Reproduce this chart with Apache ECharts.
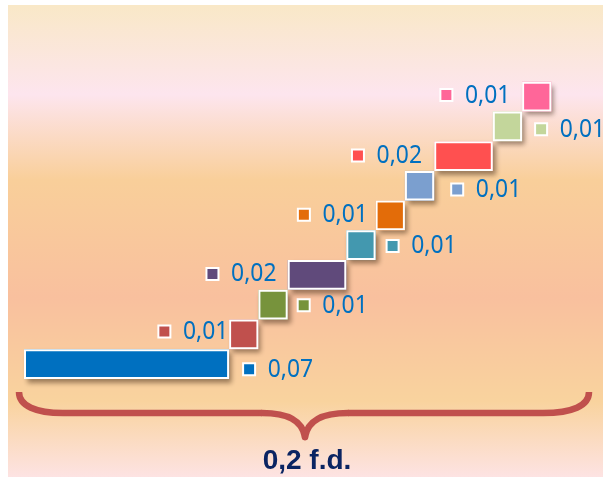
<!DOCTYPE html>
<html>
<head>
<meta charset="utf-8">
<script src="https://cdn.jsdelivr.net/npm/echarts@6/dist/echarts.min.js"></script>
<style>
html,body{margin:0;padding:0;background:#fff;}
#chart{width:603px;height:477px;}
</style>
</head>
<body>
<div id="chart"></div>
<script>
// ---- data ----
var categories = ['1', '2', '3', '4', '5', '6', '7', '8', '9', '10'];
var values = [0.07, 0.01, 0.01, 0.02, 0.01, 0.01, 0.01, 0.02, 0.01, 0.01];
var valueLabels = ['0,07', '0,01', '0,01', '0,02', '0,01', '0,01', '0,01', '0,02', '0,01', '0,01'];
var colors = ['#0070C0', '#C0504D', '#77933C', '#604A7B', '#4398AF', '#E36C09', '#7B9FCF', '#FF5050', '#C3D69B', '#FF6699'];
var labelSides = ['right', 'left', 'right', 'left', 'right', 'left', 'right', 'left', 'right', 'left'];
var totalLabel = '0,2 f.d.';

// ---- label placement styling (px nudges, separate from data) ----
var labelGap = [13, 5, 9, 12, 10, 12, 16, 13, 12, 16];
var labelDy = [5, -3, 0.5, -1, 0.7, -0.7, 3.7, -0.5, 3, -1.5];
var LABEL_FONT = '26px "Noto Sans", "Open Sans", sans-serif';
var LABEL_SCALE = 0.88;
var MARK = 14;      // outer marker size incl. white border
var MARK_GAP = 12.5;

// ---- build ----
var bases = [];
var acc = 0;
for (var i = 0; i < values.length; i++) { bases.push(acc); acc += values[i]; }

var mctx = document.createElement('canvas').getContext('2d');
function measure(txt) {
  mctx.font = LABEL_FONT;
  mctx.textBaseline = 'middle';
  mctx.textAlign = 'left';
  return mctx.measureText(txt);
}

var labelData = values.map(function (v, i) {
  var edge = labelSides[i] === 'right' ? bases[i] + v : bases[i];
  return [edge, i, i];
});

function renderLabel(params, api) {
  var idx = api.value(2);
  var p = api.coord([api.value(0), api.value(1)]);
  var txt = valueLabels[idx];
  var m = measure(txt);
  var s = LABEL_SCALE;
  var bbL = m.actualBoundingBoxLeft, bbR = m.actualBoundingBoxRight;
  var vOff = (m.actualBoundingBoxDescent - m.actualBoundingBoxAscent) / 2;
  var cy = p[1] + labelDy[idx];
  var markLeft, tx;
  if (labelSides[idx] === 'right') {
    markLeft = p[0] + labelGap[idx];
    var glyphLeft = markLeft + MARK + MARK_GAP;
    tx = glyphLeft + bbL * s;
  } else {
    var glyphRight = p[0] - labelGap[idx];
    tx = glyphRight - bbR * s;
    var gl = tx - bbL * s;
    markLeft = gl - MARK_GAP - MARK;
  }
  return {
    type: 'group',
    children: [
      {
        type: 'rect',
        shape: { x: markLeft + 1, y: cy - MARK / 2 + 1, width: MARK - 2, height: MARK - 2 },
        style: { fill: colors[idx], stroke: '#ffffff', lineWidth: 2 }
      },
      {
        type: 'text',
        x: tx, y: cy - vOff, scaleX: s, scaleY: 1,
        style: { text: txt, font: LABEL_FONT, fill: '#0070C0', align: 'left', verticalAlign: 'middle' }
      }
    ]
  };
}

var braceColor = '#C0504D';
var braceStyle = { stroke: braceColor, lineWidth: 6.5, fill: null, lineCap: 'butt' };
var braceTip = { stroke: braceColor, lineWidth: 6.5, fill: null, lineCap: 'round' };

var stepItems = values.map(function (v, i) { return { value: v, itemStyle: { color: colors[i] } }; });

var chart = echarts.init(document.getElementById('chart'), null, { renderer: 'canvas' });
chart.setOption({
  backgroundColor: '#ffffff',
  animation: false,
  grid: { left: 24, right: 51.6, top: 81.7, bottom: 98, containLabel: false },
  xAxis: { type: 'value', min: 0, max: 0.18, show: false },
  yAxis: { type: 'category', data: categories, show: false },
  graphic: [
    {
      type: 'rect', z: -10, silent: true,
      shape: { x: 8, y: 5, width: 595, height: 472 },
      style: {
        fill: new echarts.graphic.LinearGradient(0, 0, 0, 1, [
          { offset: 0, color: '#F9E8C7' },
          { offset: 0.19, color: '#FDE5EE' },
          { offset: 0.37, color: '#F9CF9A' },
          { offset: 0.62, color: '#F9C09E' },
          { offset: 0.84, color: '#F9D39E' },
          { offset: 1, color: '#FDE3E3' }
        ])
      }
    },
    { type: 'bezierCurve', z: 10, silent: true,
      shape: { x1: 19, y1: 392, cpx1: 19, cpy1: 406, cpx2: 36, cpy2: 413, x2: 63, y2: 413 }, style: braceStyle },
    { type: 'line', z: 10, silent: true,
      shape: { x1: 63, y1: 413, x2: 262, y2: 413 }, style: braceStyle },
    { type: 'bezierCurve', z: 10, silent: true,
      shape: { x1: 262, y1: 413, cpx1: 286, cpy1: 413, cpx2: 302, cpy2: 419, x2: 305, y2: 437 }, style: braceTip },
    { type: 'bezierCurve', z: 10, silent: true,
      shape: { x1: 305, y1: 437, cpx1: 308, cpy1: 419, cpx2: 324, cpy2: 413, x2: 348, y2: 413 }, style: braceTip },
    { type: 'line', z: 10, silent: true,
      shape: { x1: 348, y1: 413, x2: 543, y2: 413 }, style: braceStyle },
    { type: 'bezierCurve', z: 10, silent: true,
      shape: { x1: 543, y1: 413, cpx1: 572, cpy1: 413, cpx2: 589, cpy2: 406, x2: 589, y2: 392 }, style: braceStyle },
    {
      type: 'text', z: 10, silent: true,
      x: 307, y: 461,
      style: {
        text: totalLabel, fill: '#0A2462',
        font: 'bold 28px "Liberation Sans", Arial, sans-serif',
        textAlign: 'center', textVerticalAlign: 'middle'
      }
    }
  ],
  series: [
    { type: 'bar', stack: 'shadow', data: bases, barCategoryGap: '0%', barGap: '-100%',
      itemStyle: { color: 'rgba(0,0,0,0)' }, silent: true },
    { type: 'bar', stack: 'shadow', data: stepItems, barCategoryGap: '0%', barGap: '-100%', silent: true,
      itemStyle: { shadowColor: 'rgba(60,35,15,0.5)', shadowBlur: 5, shadowOffsetX: 3, shadowOffsetY: 4 } },
    { type: 'bar', stack: 'main', data: bases, barCategoryGap: '0%', barGap: '-100%',
      itemStyle: { color: 'rgba(0,0,0,0)' }, silent: true },
    { type: 'bar', stack: 'main', data: stepItems, barCategoryGap: '0%', barGap: '-100%',
      itemStyle: { borderColor: '#ffffff', borderWidth: 2 } },
    { type: 'custom', data: labelData, renderItem: renderLabel, clip: false, z: 5, silent: true }
  ]
});
</script>
</body>
</html>
